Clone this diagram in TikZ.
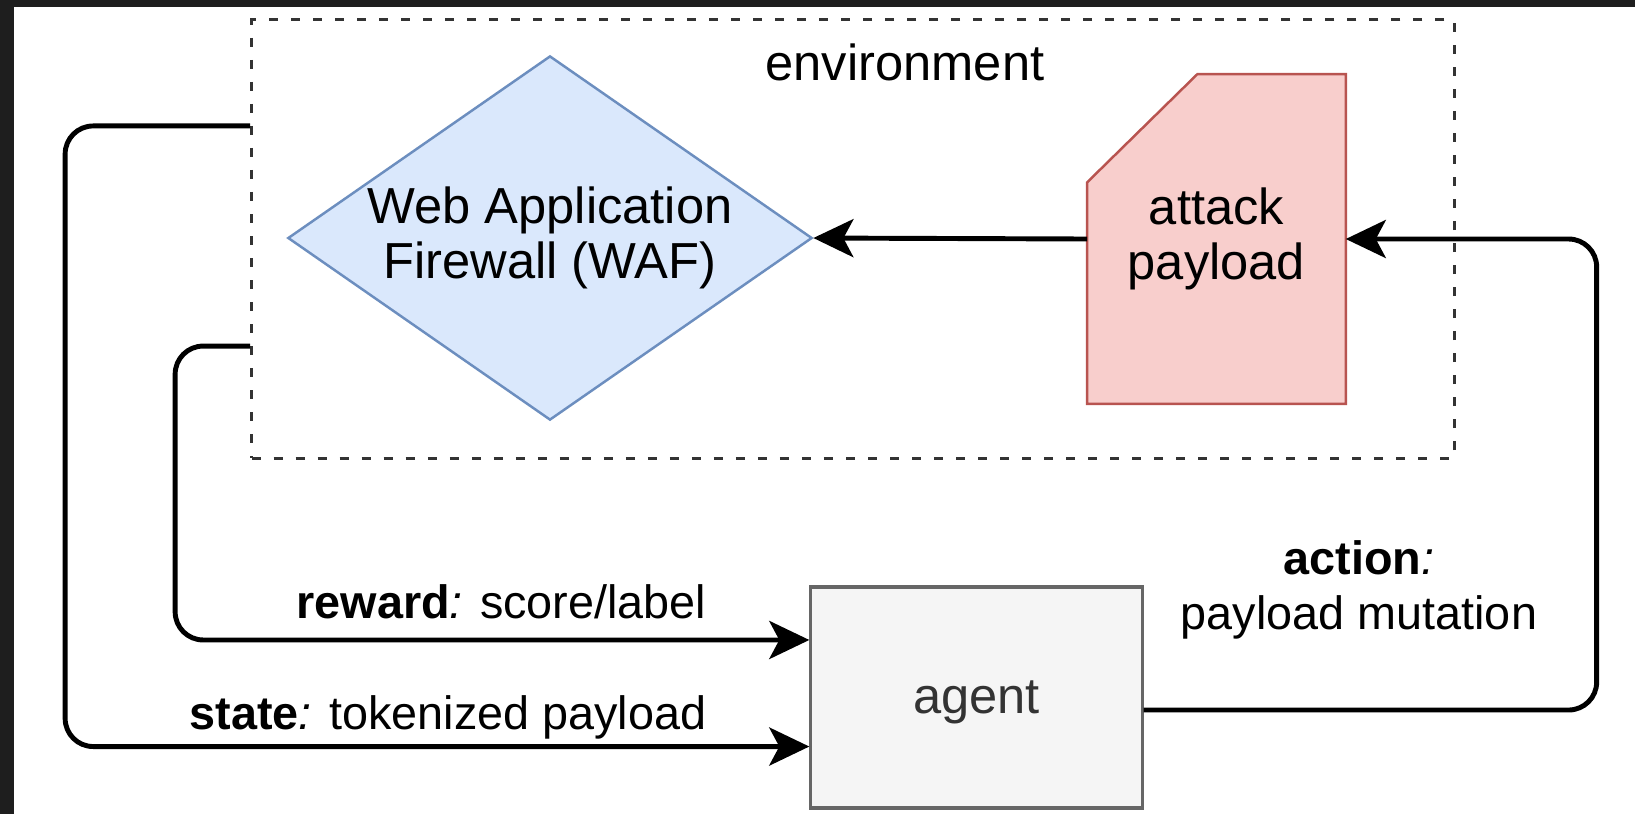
\documentclass[tikz,border=0pt]{standalone}
\usepackage{fontspec}
\setmainfont{Liberation Sans}
\usepackage{xcolor}
\usetikzlibrary{arrows.meta,positioning,shapes.geometric,backgrounds}
\definecolor{frame}{HTML}{1E1E1E}
\definecolor{wafline}{HTML}{6C8EBF}
\definecolor{waffill}{HTML}{DAE8FC}
\definecolor{payline}{HTML}{B85450}
\definecolor{payfill}{HTML}{F8CECC}
\definecolor{agentline}{HTML}{666666}
\definecolor{agentfill}{HTML}{F5F5F5}
\definecolor{agenttext}{HTML}{333333}
\begin{document}
\begin{tikzpicture}[x=0.01cm,y=-0.01cm,
 font=\fontsize{14.4}{15.8}\selectfont,
 envbox/.style={draw=black!80,line width=0.85pt,dash pattern=on 0.09cm off 0.13cm,minimum width=12.02cm,minimum height=4.38cm},
 wafnode/.style={diamond,aspect=1.44,draw=wafline,fill=waffill,line width=0.7pt,inner sep=0pt,minimum width=5.24cm,minimum height=3.64cm,align=center},
 paynode/.style={minimum width=2.57cm,minimum height=3.28cm,align=center},
 paycut/.style={draw=payline,fill=payfill,line width=0.7pt},
 agentnode/.style={draw=agentline,fill=agentfill,line width=0.9pt,minimum width=3.31cm,minimum height=2.21cm,text depth=0pt,text=agenttext},
 lbl/.style={font=\fontsize{13.3}{15.6}\selectfont,align=center,inner sep=0pt},
 arr/.style={-{Stealth[length=0.4cm,width=0.38cm,inset=0.1cm]},line width=1.4pt,rounded corners=0.28cm}]
% frame and page
\useasboundingbox (0,0) rectangle (1635,814);
\begin{scope}[on background layer]
\fill[frame] (0,0) rectangle (1635,814);
\fill[white] (14,7) rectangle (1635,814);
\end{scope}
% environment
\node[envbox] (env) at (853,239) {};
\node (envlabel) at (905,62) {environment};
\node[wafnode] (waf) at (550,238) {Web Application\\Firewall (WAF)};
\node[paynode] (payload) at (1216.5,239) {attack\\payload};
\begin{scope}[on background layer]
\draw[paycut] (payload.south west) -- ([yshift=-1.08cm]payload.north west)
  -- ([xshift=1.1cm]payload.north west) -- (payload.north east)
  -- (payload.south east) -- cycle;
\end{scope}
% agent
\node[agentnode] (agent) at (976.5,697.5) {agent};
% labels
\node[lbl,anchor=base east] (rewardlbl) at (707,618) {\textbf{reward}\textit{:} score/label};
\node[lbl,anchor=base east] (statelbl) at (707,729) {\textbf{state}\textit{:} tokenized payload};
\node[lbl,anchor=base] (actionlbl) at (1359,629) {\textbf{action}\textit{:}\\payload mutation};
% connectors
\draw[arr] (payload.west) -- (waf.east);
\draw[arr] ([yshift=-0.125cm]agent.east) -- ++(453,0) |- (payload.east);
\draw[arr] ([yshift=-1.07cm]env.west) -- ++(-75,0) |- ([yshift=0.575cm]agent.west);
\draw[arr] ([yshift=1.13cm]env.west) -- ++(-185,0) |- ([yshift=-0.49cm]agent.west);
\end{tikzpicture}
\end{document}
